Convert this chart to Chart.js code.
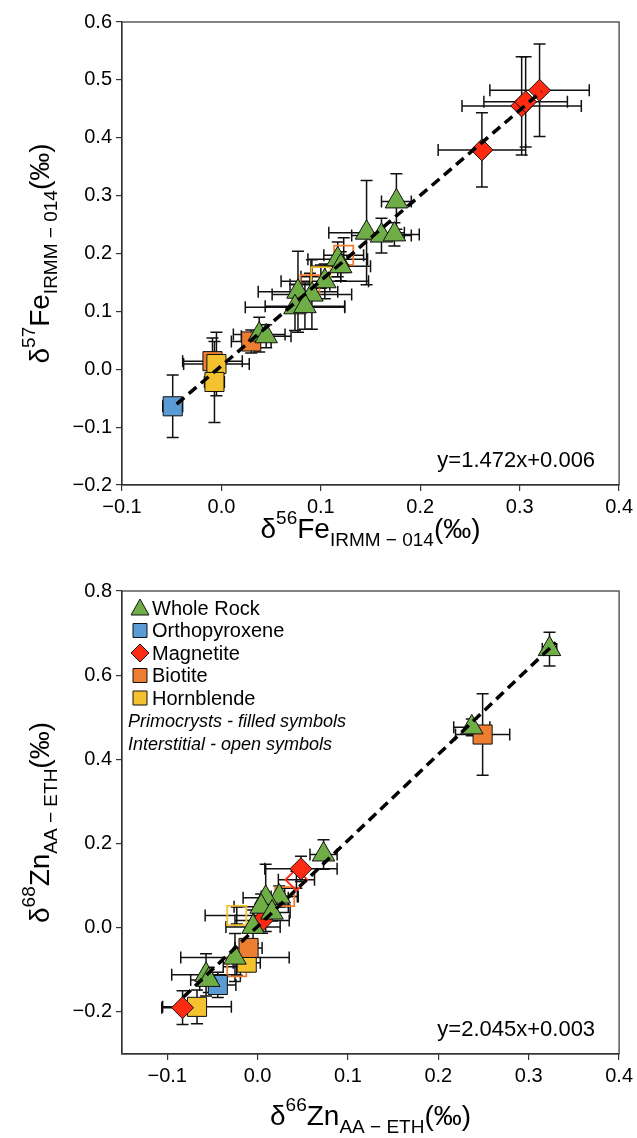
<!DOCTYPE html>
<html>
<head>
<meta charset="utf-8">
<script src="https://cdn.jsdelivr.net/npm/chart.js@4.4.1/dist/chart.umd.min.js"></script>
<style>
  html, body { margin: 0; padding: 0; background: #fff; }
  .box { position: absolute; left: 0; width: 637px; height: 569px; }
</style>
</head>
<body>
<div class="box" style="top:0"><canvas id="fe" width="637" height="569"></canvas></div>
<div class="box" style="top:569px"><canvas id="zn" width="637" height="569"></canvas></div>
<script>
// rows are [x, y, xerr, yerr]
const feWholeRock = [
  [0.176, 0.290, 0.015, 0.048], [0.146, 0.236, 0.038, 0.090], [0.161, 0.231, 0.030, 0.030],
  [0.174, 0.233, 0.025, 0.020], [0.117, 0.190, 0.030, 0.030], [0.120, 0.178, 0.030, 0.025],
  [0.104, 0.152, 0.044, 0.030], [0.077, 0.134, 0.040, 0.070], [0.091, 0.129, 0.040, 0.060],
  [0.074, 0.107, 0.050, 0.040], [0.084, 0.109, 0.040, 0.040], [0.038, 0.060, 0.026, 0.030],
  [0.045, 0.057, 0.025, 0.020]
]
const feMagnetite = [
  [0.262, 0.379, 0.044, 0.064], [0.302, 0.455, 0.060, 0.085],
  [0.306, 0.462, 0.042, 0.078], [0.320, 0.482, 0.050, 0.080]
]
const feOrthopyroxene = [[-0.049, -0.064, 0.010, 0.054]]
const feBiotite = [[0.030, 0.048, 0.020, 0.020], [-0.009, 0.014, 0.030, 0.040]]
const feHornblende = [[-0.005, 0.009, 0.033, 0.055], [-0.007, -0.022, 0.010, 0.070]]
const feBiotiteOpen = [[0.123, 0.197, 0.020, 0.030], [0.089, 0.146, 0.020, 0.020]]
const feHornblendeOpen = [[0.100, 0.160, 0.020, 0.020]]

const znWholeRock = [
  [0.323, 0.662, 0.008, 0.040], [0.237, 0.476, 0.020, 0.020], [0.073, 0.174, 0.015, 0.035],
  [0.024, 0.074, 0.020, 0.025], [0.009, 0.071, 0.025, 0.080], [0.004, 0.050, 0.030, 0.030],
  [0.016, 0.036, 0.020, 0.020], [-0.005, 0.002, 0.030, 0.040], [-0.025, -0.071, 0.060, 0.057],
  [-0.057, -0.112, 0.038, 0.050], [-0.054, -0.124, 0.020, 0.030]
]
const znMagnetite = [[0.048, 0.140, 0.040, 0.030], [0.005, 0.017, 0.030, 0.030], [-0.083, -0.190, 0.023, 0.040]]
const znMagnetiteOpen = [[0.043, 0.114, 0.020, 0.020]]
const znOrthopyroxene = [[-0.044, -0.136, 0.020, 0.030]]
const znBiotite = [[0.249, 0.459, 0.030, 0.097], [-0.010, -0.048, 0.015, 0.020]]
const znBiotiteOpen = [[0.030, 0.074, 0.015, 0.020], [-0.023, -0.093, 0.015, 0.020]]
const znHornblende = [[-0.012, -0.083, 0.015, 0.020], [-0.067, -0.188, 0.038, 0.040]]
const znHornblendeOpen = [[-0.023, 0.029, 0.035, 0.020]]

const feFit = [1.472, 0.006]
const feFitX = [-0.045, 0.322]
const znFit = [2.045, 0.003]
const znFitX = [-0.082, 0.33]

const feTicksX = [-0.1, 0.0, 0.1, 0.2, 0.3, 0.4]
const feTicksY = [-0.2, -0.1, 0.0, 0.1, 0.2, 0.3, 0.4, 0.5, 0.6]
const znTicksX = [-0.1, 0.0, 0.1, 0.2, 0.3, 0.4]
const znTicksY = [-0.2, 0.0, 0.2, 0.4, 0.6, 0.8]

const legendLabels = ["Whole Rock", "Orthopyroxene", "Magnetite", "Biotite", "Hornblende"]
const legendNotes = ["Primocrysts - filled symbols", "Interstitial - open symbols"]

const GREEN = "#6fae47"
const BLUE = "#5b9bd5"
const RED = "#ff2a12"
const ORANGE = "#ed7d31"
const YELLOW = "#f4c22e"
const FONT = "'Liberation Sans', Arial, sans-serif"

function markers(rows, style, color, filled, radius) {
  return {
    type: "scatter",
    data: rows.map((r) => ({ x: r[0], y: r[1], xe: r[2], ye: r[3] })),
    pointStyle: style,
    pointRadius: radius,
    pointHoverRadius: radius,
    backgroundColor: filled ? color : "rgba(0,0,0,0)",
    borderColor: filled ? "#111" : color,
    borderWidth: filled ? 1 : 1.8,
    errors: true,
  }
}

function fitLine(fit, xs) {
  return {
    type: "line",
    data: xs.map((x) => ({ x, y: fit[0] * x + fit[1] })),
    borderColor: "#000",
    borderWidth: 3.5,
    borderDash: [10, 6],
    pointRadius: 0,
    showLine: true,
    fill: false,
  }
}

const errorBars = {
  id: "errorBars",
  beforeDatasetsDraw(chart) {
    const { ctx, scales } = chart
    const cap = 6
    ctx.save()
    ctx.strokeStyle = "#111"
    ctx.lineWidth = 1.5
    chart.data.datasets.forEach((ds) => {
      if (!ds.errors) return
      ds.data.forEach((p) => {
        const px = scales.x.getPixelForValue(p.x)
        const py = scales.y.getPixelForValue(p.y)
        const x0 = scales.x.getPixelForValue(p.x - p.xe)
        const x1 = scales.x.getPixelForValue(p.x + p.xe)
        const y0 = scales.y.getPixelForValue(p.y - p.ye)
        const y1 = scales.y.getPixelForValue(p.y + p.ye)
        ctx.beginPath()
        ctx.moveTo(x0, py); ctx.lineTo(x1, py)
        ctx.moveTo(x0, py - cap); ctx.lineTo(x0, py + cap)
        ctx.moveTo(x1, py - cap); ctx.lineTo(x1, py + cap)
        ctx.moveTo(px, y0); ctx.lineTo(px, y1)
        ctx.moveTo(px - cap, y0); ctx.lineTo(px + cap, y0)
        ctx.moveTo(px - cap, y1); ctx.lineTo(px + cap, y1)
        ctx.stroke()
      })
    })
    ctx.restore()
  },
}

// text with superscript / subscript parts
function richText(ctx, parts, size) {
  const small = Math.round(size * 0.68)
  let w = 0
  parts.forEach((p) => {
    ctx.font = (p[1] === "n" ? size : small) + "px " + FONT
    w += ctx.measureText(p[0]).width
  })
  let x = -w / 2
  parts.forEach((p) => {
    ctx.font = (p[1] === "n" ? size : small) + "px " + FONT
    const dy = p[1] === "sup" ? -size * 0.5 : p[1] === "sub" ? size * 0.3 : 0
    ctx.fillText(p[0], x, dy)
    x += ctx.measureText(p[0]).width
  })
}

const decorations = {
  id: "decorations",
  afterDraw(chart, args, opts) {
    const { ctx, chartArea: a } = chart
    ctx.save()
    ctx.strokeStyle = "#333"
    ctx.lineWidth = 1.2
    ctx.strokeRect(a.left, a.top, a.right - a.left, a.bottom - a.top)
    ctx.fillStyle = "#000"
    ctx.textBaseline = "alphabetic"
    ctx.textAlign = "left"

    ctx.save()
    ctx.translate((a.left + a.right) / 2, opts.xTitleY)
    richText(ctx, opts.xTitle, 28)
    ctx.restore()

    ctx.save()
    ctx.translate(49, (a.top + a.bottom) / 2)
    ctx.rotate(-Math.PI / 2)
    richText(ctx, opts.yTitle, 28)
    ctx.restore()

    ctx.font = "22px " + FONT
    ctx.textAlign = "right"
    ctx.fillText(opts.note, a.right - 24, a.bottom - 18)

    if (opts.legend) drawLegend(ctx, a)
    ctx.restore()
  },
}

function drawLegend(ctx, a) {
  const styles = [
    ["triangle", GREEN], ["rect", BLUE], ["diamond", RED], ["rect", ORANGE], ["rect", YELLOW],
  ]
  const x = a.left + 18
  let y = a.top + 17
  ctx.lineWidth = 1
  ctx.strokeStyle = "#111"
  legendLabels.forEach((label, i) => {
    const [shape, color] = styles[i]
    ctx.fillStyle = color
    ctx.beginPath()
    if (shape === "triangle") {
      ctx.moveTo(x, y - 9); ctx.lineTo(x + 9, y + 7); ctx.lineTo(x - 9, y + 7); ctx.closePath()
    } else if (shape === "diamond") {
      ctx.moveTo(x, y - 9); ctx.lineTo(x + 9, y); ctx.lineTo(x, y + 9); ctx.lineTo(x - 9, y); ctx.closePath()
    } else {
      ctx.rect(x - 7, y - 7, 14, 14)
    }
    ctx.fill()
    ctx.stroke()
    ctx.fillStyle = "#000"
    ctx.font = "20px " + FONT
    ctx.textAlign = "left"
    ctx.textBaseline = "middle"
    ctx.fillText(label, x + 12, y + 1)
    y += 22.5
  })
  ctx.font = "italic 18px " + FONT
  legendNotes.forEach((t) => {
    ctx.fillText(t, a.left + 6, y + 1)
    y += 23
  })
}

function fmt(v) {
  const r = Math.round(v * 10) / 10
  return (r < 0 ? "\u2212" : "") + Math.abs(r).toFixed(1)
}

function axis(min, max, ticks, isX) {
  return {
    type: "linear",
    min,
    max,
    afterBuildTicks: (ax) => { ax.ticks = ticks.map((v) => ({ value: v })) },
    afterFit: (ax) => { if (isX) ax.height = 84; else ax.width = 122 },
    grid: { drawOnChartArea: false, drawTicks: true, tickLength: 6, color: "#333", lineWidth: 1.2 },
    border: { display: true, color: "#333", width: 1.2 },
    ticks: {
      color: "#000",
      font: { family: FONT, size: 20 },
      padding: 4,
      maxRotation: 0,
      autoSkip: false,
      callback: (v) => fmt(v),
    },
  }
}

function makeChart(id, datasets, xr, yr, xt, yt, deco) {
  return new Chart(document.getElementById(id), {
    type: "scatter",
    data: { datasets },
    options: {
      responsive: false,
      animation: false,
      devicePixelRatio: 1,
      layout: { padding: { top: 22, right: 16, left: 0, bottom: 0 } },
      plugins: { legend: { display: false }, tooltip: { enabled: false }, decorations: deco },
      events: [],
      scales: { x: axis(xr[0], xr[1], xt, true), y: axis(yr[0], yr[1], yt, false) },
    },
    plugins: [errorBars, decorations],
  })
}

makeChart("fe", [
  fitLine(feFit, feFitX),
  markers(feMagnetite, "rectRot", RED, true, 11),
  markers(feWholeRock, "triangle", GREEN, true, 13),
  markers(feOrthopyroxene, "rect", BLUE, true, 13.5),
  markers(feHornblende, "rect", YELLOW, true, 13.5),
  markers(feBiotite, "rect", ORANGE, true, 13.5),
  markers(feBiotiteOpen, "rect", ORANGE, false, 13.5),
  markers(feHornblendeOpen, "rect", YELLOW, false, 13.5),
], [-0.1, 0.4], [-0.2, 0.6], feTicksX, feTicksY, {
  xTitleY: 538,
  xTitle: [["\u03b4", "n"], ["56", "sup"], ["Fe", "n"], ["IRMM \u2212 014", "sub"], ["(\u2030)", "n"]],
  yTitle: [["\u03b4", "n"], ["57", "sup"], ["Fe", "n"], ["IRMM \u2212 014", "sub"], ["(\u2030)", "n"]],
  note: "y=1.472x+0.006",
  legend: false,
})

makeChart("zn", [
  fitLine(znFit, znFitX),
  markers(znWholeRock, "triangle", GREEN, true, 13),
  markers(znMagnetite, "rectRot", RED, true, 11),
  markers(znMagnetiteOpen, "rectRot", RED, false, 11),
  markers(znOrthopyroxene, "rect", BLUE, true, 13.5),
  markers(znBiotite, "rect", ORANGE, true, 13.5),
  markers(znHornblende, "rect", YELLOW, true, 13.5),
  markers(znBiotiteOpen, "rect", ORANGE, false, 13.5),
  markers(znHornblendeOpen, "rect", YELLOW, false, 13.5),
], [-0.15, 0.4], [-0.3, 0.8], znTicksX, znTicksY, {
  xTitleY: 556,
  xTitle: [["\u03b4", "n"], ["66", "sup"], ["Zn", "n"], ["AA \u2212 ETH", "sub"], ["(\u2030)", "n"]],
  yTitle: [["\u03b4", "n"], ["68", "sup"], ["Zn", "n"], ["AA \u2212 ETH", "sub"], ["(\u2030)", "n"]],
  note: "y=2.045x+0.003",
  legend: true,
})
</script>
</body>
</html>
